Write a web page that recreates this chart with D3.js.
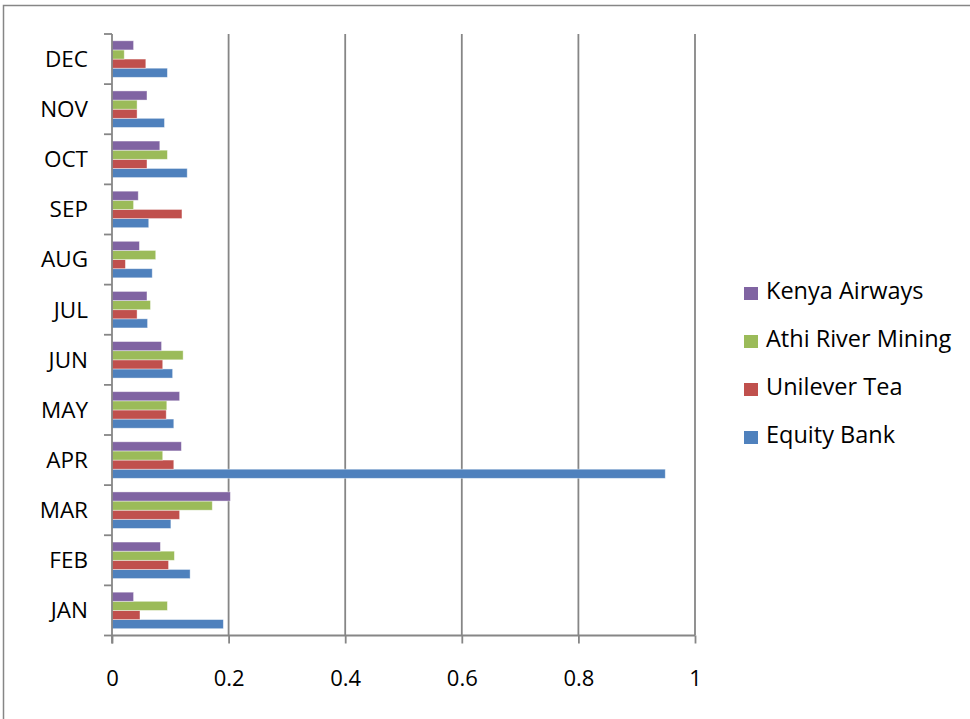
<!DOCTYPE html>
<html>
<head>
<meta charset="utf-8">
<script src="https://cdn.jsdelivr.net/npm/d3@7"></script>
<style>
  body { margin: 0; background: #fff; }
  text { font-family: "Open Sans", Lato, sans-serif; fill: #000; }
</style>
</head>
<body>
<div id="chart"></div>
<script>
// months, bottom to top as drawn
var months = ["JAN", "FEB", "MAR", "APR", "MAY", "JUN", "JUL", "AUG", "SEP", "OCT", "NOV", "DEC"];
var seriesNames = ["Equity Bank", "Unilever Tea", "Athi River Mining", "Kenya Airways"];
var equityBank      = [0.191, 0.134, 0.101, 0.949, 0.106, 0.104, 0.061, 0.069, 0.063, 0.129, 0.090, 0.095];
var unileverTea     = [0.048, 0.097, 0.116, 0.106, 0.093, 0.087, 0.043, 0.023, 0.120, 0.060, 0.043, 0.058];
var athiRiverMining = [0.095, 0.107, 0.172, 0.087, 0.094, 0.122, 0.066, 0.075, 0.037, 0.095, 0.043, 0.021];
var kenyaAirways    = [0.037, 0.083, 0.203, 0.119, 0.116, 0.085, 0.060, 0.047, 0.045, 0.082, 0.060, 0.037];
var xTicks = [0, 0.2, 0.4, 0.6, 0.8, 1];
var colors = ["#4F81BD", "#C0504D", "#9BBB59", "#8064A2"];

var allSeries = [equityBank, unileverTea, athiRiverMining, kenyaAirways];

var W = 970, H = 719;
var plot = {left: 112, right: 695, top: 34, bottom: 635.5};

var svg = d3.select("#chart").append("svg")
    .attr("width", W).attr("height", H);

// outer chart frame (runs off the picture to the right and bottom)
svg.append("rect")
    .attr("x", 3.5).attr("y", 5.5)
    .attr("width", W + 20).attr("height", H + 20)
    .attr("fill", "none").attr("stroke", "#868686").attr("stroke-width", 1.5);

var x = d3.scaleLinear().domain([0, 1]).range([plot.left, plot.right]);
var y = d3.scaleBand().domain(months.slice().reverse()).range([plot.top, plot.bottom])
    .paddingInner(0).paddingOuter(0);
var groupPad = 6.8;
var ySub = d3.scaleBand().domain(d3.range(allSeries.length).reverse())
    .range([groupPad, y.bandwidth() - groupPad]);

// gridlines
svg.append("g").selectAll("line").data(xTicks.slice(1)).enter().append("line")
    .attr("x1", function (d) { return x(d); })
    .attr("x2", function (d) { return x(d); })
    .attr("y1", plot.top).attr("y2", plot.bottom)
    .attr("stroke", "#868686").attr("stroke-width", 1.8);

// bars
allSeries.forEach(function (vals, si) {
    svg.append("g").selectAll("rect").data(vals).enter().append("rect")
        .attr("x", x(0))
        .attr("y", function (d, i) { return y(months[i]) + ySub(si); })
        .attr("width", function (d) { return x(d) - x(0); })
        .attr("height", ySub.bandwidth())
        .attr("fill", colors[si])
        .attr("stroke", "#fff").attr("stroke-opacity", 0.5).attr("stroke-width", 0.8);
});

// x axis
var xAxis = d3.axisBottom(x).tickValues(xTicks).tickSize(8).tickPadding(27)
    .tickFormat(function (d) { return d3.format("")(d); });
var gx = svg.append("g").attr("transform", "translate(0," + plot.bottom + ")").call(xAxis);
gx.select(".domain").attr("stroke", "#868686").attr("stroke-width", 1.8)
    .attr("d", "M" + plot.left + ",0H" + plot.right);
gx.selectAll(".tick line").attr("stroke", "#868686").attr("stroke-width", 1.8);
gx.selectAll(".tick text").style("font-size", "22px").style("font-family", "'Open Sans', sans-serif")
    .attr("fill", "#000");

// y axis: ticks at band boundaries
var yAxisG = svg.append("g");
yAxisG.append("line")
    .attr("x1", plot.left).attr("x2", plot.left)
    .attr("y1", plot.top).attr("y2", plot.bottom + 8)
    .attr("stroke", "#868686").attr("stroke-width", 1.8);
var bounds = months.map(function (m) { return y(m); }).concat([plot.bottom]);
yAxisG.selectAll("line.tk").data(bounds).enter().append("line").attr("class", "tk")
    .attr("x1", plot.left - 8).attr("x2", plot.left)
    .attr("y1", function (d) { return d; }).attr("y2", function (d) { return d; })
    .attr("stroke", "#868686").attr("stroke-width", 1.8);
yAxisG.selectAll("text").data(months).enter().append("text")
    .attr("x", plot.left - 24)
    .attr("y", function (d) { return y(d) + y.bandwidth() / 2; })
    .attr("dy", "0.35em")
    .attr("text-anchor", "end")
    .style("font-size", "22.5px")
    .text(function (d) { return d; });

// legend, top to bottom: reverse of series order
var legendOrder = d3.range(seriesNames.length).reverse();
var lg = svg.append("g").selectAll("g").data(legendOrder).enter().append("g")
    .attr("transform", function (d, i) { return "translate(744," + (299 + i * 48) + ")"; });
lg.append("rect").attr("x", 0).attr("y", -12).attr("width", 14).attr("height", 13)
    .attr("fill", function (d) { return colors[d]; });
lg.append("text").attr("x", 22).attr("y", 0)
    .style("font-size", "23.5px")
    .text(function (d) { return seriesNames[d]; });
</script>
</body>
</html>
